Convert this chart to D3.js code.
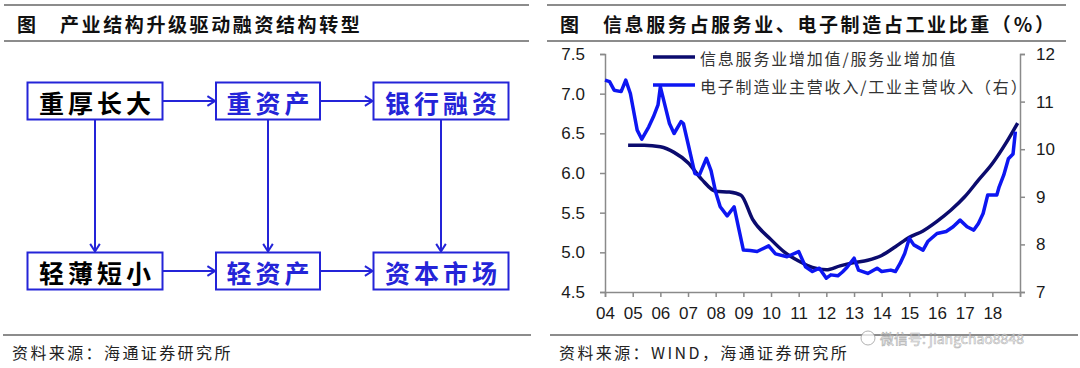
<!DOCTYPE html>
<html>
<head>
<meta charset="utf-8">
<script src="https://cdn.jsdelivr.net/npm/d3@7"></script>
<style>
body{margin:0;background:#fff;}
svg text{font-family:"Noto Sans CJK SC",sans-serif;}
.num text{font-family:"Liberation Sans",Arial,sans-serif;}
</style>
</head>
<body>
<svg width="1080" height="368"></svg>
<script>
// left panel: flowchart
var nodeLabels = ["重厚长大","重资产","银行融资","轻薄短小","轻资产","资本市场"];
var nodeCols = [0,1,2,0,1,2];
var nodeRows = [0,0,0,1,1,1];
var linkFrom = [0,1,0,1,2,3,4];
var linkTo   = [1,2,3,4,5,4,5];

// right panel: 信息服务业增加值/服务业增加值 (left axis)
var infoDates  = ["2004-11","2005-06","2006-01","2006-07","2007-01","2007-07","2008-01","2008-07","2008-12",
                  "2009-05","2010-01","2010-07","2011-01","2011-07","2012-01","2012-07","2013-01","2013-07",
                  "2014-01","2014-07","2015-01","2015-07","2016-01","2016-07","2017-01","2017-07","2018-01",
                  "2018-07","2018-12"];
var infoValues = [6.35,6.35,6.33,6.26,6.13,5.92,5.77,5.76,5.72,
                  5.42,5.16,5.00,4.89,4.81,4.78,4.83,4.87,4.90,
                  4.96,5.07,5.19,5.27,5.39,5.53,5.70,5.91,6.12,
                  6.38,6.63];

// 电子制造业主营收入/工业主营收入 (right axis)
var elecDates  = ["2004-01","2004-03","2004-05","2004-08","2004-10","2004-12","2005-03","2005-05","2005-08",
                  "2005-10","2005-12","2006-01","2006-03","2006-05","2006-07","2006-10","2006-11","2007-01",
                  "2007-04","2007-06","2007-09","2007-11","2008-01","2008-03","2008-06","2008-09","2008-11",
                  "2009-01","2009-04","2009-07","2009-12","2010-03","2010-08","2011-01","2011-04","2011-07",
                  "2011-10","2012-01","2012-03","2012-06","2012-08","2012-10","2013-01","2013-03","2013-07",
                  "2013-11","2014-01","2014-05","2014-07","2014-09","2014-11","2015-01","2015-03","2015-07",
                  "2015-09","2016-01","2016-05","2016-08","2016-11","2017-02","2017-05","2017-07","2017-09",
                  "2017-11","2018-03","2018-04","2018-06","2018-08","2018-10","2018-11"];
var elecValues = [11.45,11.42,11.24,11.21,11.45,11.17,10.40,10.21,10.47,
                  10.68,10.93,11.31,10.93,10.54,10.33,10.58,10.54,10.12,
                  9.49,9.46,9.81,9.55,9.10,8.79,8.60,8.79,8.33,
                  7.88,7.87,7.85,7.97,7.80,7.74,7.85,7.53,7.43,
                  7.50,7.29,7.36,7.34,7.42,7.52,7.71,7.46,7.39,
                  7.50,7.43,7.46,7.43,7.60,7.81,8.13,7.99,7.88,
                  8.06,8.23,8.27,8.37,8.51,8.37,8.30,8.44,8.65,
                  9.04,9.04,9.21,9.46,9.80,9.90,10.37];

var yearLabels = ["04","05","06","07","08","09","10","11","12","13","14","15","16","17","18"];
var leftTicks = [4.5,5.0,5.5,6.0,6.5,7.0,7.5];
var rightTicks = [7,8,9,10,11,12];
var legendNames = ["信息服务业增加值/服务业增加值","电子制造业主营收入/工业主营收入（右）"];

var svg = d3.select("svg");
var ruleColor = "#666";

// ---- headers and footers ----
function header(x0, x1, title){
  svg.append("line").attr("x1",x0).attr("x2",x1).attr("y1",5).attr("y2",5)
    .attr("stroke",ruleColor).attr("stroke-width",1.5);
  svg.append("line").attr("x1",x0).attr("x2",x1).attr("y1",41).attr("y2",41)
    .attr("stroke",ruleColor).attr("stroke-width",1.5);
  svg.append("text").attr("x",x0+13).attr("y",23).attr("dominant-baseline","central")
    .attr("font-size",19).attr("font-weight","bold").attr("fill","#111").text("图");
  svg.append("text").attr("x",x0+56).attr("y",23).attr("dominant-baseline","central")
    .attr("font-size",19).attr("font-weight","bold").attr("letter-spacing",2.6).attr("fill","#111").text(title);
}
header(4, 529, "产业结构升级驱动融资结构转型");
header(547, 1066, "信息服务占服务业、电子制造占工业比重（％）");

function footer(x0, x1, src){
  svg.append("line").attr("x1",x0).attr("x2",x1).attr("y1",335).attr("y2",335)
    .attr("stroke",ruleColor).attr("stroke-width",1.5);
  svg.append("text").attr("x",x0+9).attr("y",352).attr("dominant-baseline","central")
    .attr("font-size",16).attr("letter-spacing",2.4).attr("fill","#222").text(src);
}
footer(3, 531, "资料来源：海通证券研究所");
footer(550, 1078, "资料来源：WIND，海通证券研究所");

// ---- flowchart ----
var blue = "#2424d8";
var colX = d3.scalePoint().domain([0,1,2]).range([95,441]);
var rowY = d3.scalePoint().domain([0,1]).range([101,271]);
var boxH = 37;
var nodes = nodeLabels.map(function(l,i){
  return {label:l, cx:colX(nodeCols[i]), cy:rowY(nodeRows[i]), w:l.length*31+11, col:nodeCols[i]};
});

var flow = svg.append("g");
function arrowHead(x, y, ang){
  var a1 = ang + Math.PI*0.82, a2 = ang - Math.PI*0.82, L = 9;
  flow.append("path")
    .attr("d","M"+(x+L*Math.cos(a1))+","+(y+L*Math.sin(a1))+"L"+x+","+y+"L"+(x+L*Math.cos(a2))+","+(y+L*Math.sin(a2)))
    .attr("fill","none").attr("stroke",blue).attr("stroke-width",2);
}
linkFrom.forEach(function(f,i){
  var s = nodes[f], t = nodes[linkTo[i]];
  var x1,y1,x2,y2;
  if (s.cy === t.cy){ x1 = s.cx+s.w/2; x2 = t.cx-t.w/2-1; y1 = y2 = s.cy; }
  else { x1 = x2 = s.cx; y1 = s.cy+boxH/2; y2 = t.cy-boxH/2-1; }
  flow.append("line").attr("x1",x1).attr("y1",y1).attr("x2",x2).attr("y2",y2)
    .attr("stroke",blue).attr("stroke-width",2);
  arrowHead(x2, y2, Math.atan2(y2-y1, x2-x1));
});
flow.selectAll(".box").data(nodes).enter().append("rect")
  .attr("x",function(d){return d.cx-d.w/2;})
  .attr("y",function(d){return d.cy-boxH/2;})
  .attr("width",function(d){return d.w;})
  .attr("height",boxH)
  .attr("fill","#fff").attr("stroke",blue).attr("stroke-width",2);
flow.selectAll(".lab").data(nodes).enter().append("text")
  .attr("x",function(d){return d.cx+2;})
  .attr("y",function(d){return d.cy+1;})
  .attr("text-anchor","middle").attr("dominant-baseline","central")
  .attr("font-size",25).attr("font-weight","bold").attr("letter-spacing",4)
  .attr("fill",function(d){return d.col===0 ? "#000" : blue;})
  .text(function(d){return d.label;});

// ---- line chart ----
var parse = d3.timeParse("%Y-%m");
var x = d3.scaleTime().domain([new Date(2004,0,1), new Date(2019,0,1)]).range([605,1020]);
var yL = d3.scaleLinear().domain([4.5,7.5]).range([292,54]);
var yR = d3.scaleLinear().domain([7,12]).range([292,54]);
var axisColor = "#8a8a8a";

var years = d3.range(2004,2020).map(function(y){return new Date(y,0,1);});
var gx = svg.append("g").attr("class","num").attr("transform","translate(0,292)")
  .call(d3.axisBottom(x).tickValues(years).tickSizeOuter(0).tickSize(5).tickPadding(10)
    .tickFormat(function(d,i){return yearLabels[i] || "";}));
var gl = svg.append("g").attr("class","num").attr("transform","translate(605,0)")
  .call(d3.axisLeft(yL).tickValues(leftTicks).tickSizeOuter(0).tickSize(5).tickPadding(15)
    .tickFormat(d3.format(".1f")));
var gr = svg.append("g").attr("class","num").attr("transform","translate(1020,0)")
  .call(d3.axisRight(yR).tickValues(rightTicks).tickSizeOuter(0).tickSize(5).tickPadding(11)
    .tickFormat(d3.format("d")));
[gx,gl,gr].forEach(function(g){
  g.selectAll("path,line").attr("stroke",axisColor).attr("stroke-width",1.5);
  g.selectAll("text").attr("font-size",17).attr("fill","#1a1a1a");
});

var navy = "#0b0b6e", bright = "#0d16f2";
var infoData = infoDates.map(function(d,i){return {t:parse(d), v:infoValues[i]};});
var elecData = elecDates.map(function(d,i){return {t:parse(d), v:elecValues[i]};});

svg.append("path").datum(infoData)
  .attr("d", d3.line().x(function(d){return x(d.t);}).y(function(d){return yL(d.v);}).curve(d3.curveMonotoneX))
  .attr("fill","none").attr("stroke",navy).attr("stroke-width",3.5);
svg.append("path").datum(elecData)
  .attr("d", d3.line().x(function(d){return x(d.t);}).y(function(d){return yR(d.v);}))
  .attr("fill","none").attr("stroke",bright).attr("stroke-width",3.5).attr("stroke-linejoin","round");

// legend
var legColors = [navy, bright];
legendNames.forEach(function(n,i){
  var ly = 57 + i*28;
  svg.append("line").attr("x1",653).attr("x2",695).attr("y1",ly).attr("y2",ly)
    .attr("stroke",legColors[i]).attr("stroke-width",3.5);
  svg.append("text").attr("x",700).attr("y",ly+1).attr("dominant-baseline","central")
    .attr("font-size",16).attr("letter-spacing",1.8).attr("fill","#333").text(n);
});

// watermark, set in the gap under the year labels so it covers no other text
var wm = svg.append("g").attr("opacity",0.75);
wm.append("circle").attr("cx",868).attr("cy",338).attr("r",7)
  .attr("fill","#fff").attr("stroke","#999").attr("stroke-width",1);
wm.append("text").attr("x",880).attr("y",338).attr("dominant-baseline","central")
  .attr("font-size",14).attr("fill","#fff").attr("stroke","#999").attr("stroke-width",0.6)
  .text("微信号: jiangchao8848");
</script>
</body>
</html>
